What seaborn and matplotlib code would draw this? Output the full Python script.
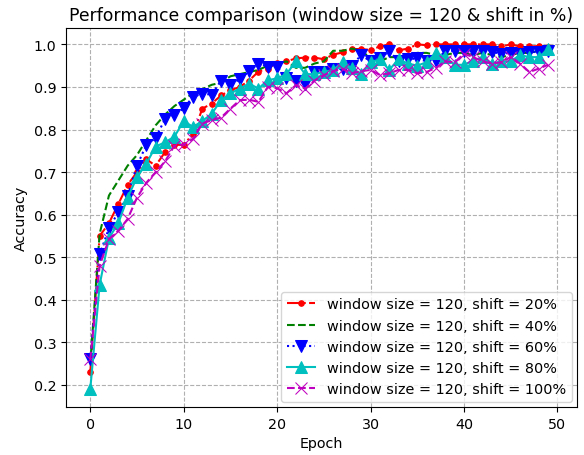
import matplotlib
matplotlib.use("Agg")
import matplotlib.pyplot as plt
import seaborn as sns
import pandas as pd
import numpy as np

epochs = list(range(50))

acc_shift20 = [0.23, 0.55, 0.58, 0.625, 0.67, 0.70, 0.73, 0.715, 0.747, 0.764,
               0.764, 0.79, 0.849, 0.861, 0.88, 0.892, 0.90, 0.915, 0.936, 0.943,
               0.957, 0.96, 0.967, 0.969, 0.969, 0.965, 0.976, 0.981, 0.989, 0.989,
               0.987, 0.995, 1.0, 0.986, 0.99, 1.0, 0.998, 1.0, 1.0, 1.0,
               1.0, 1.0, 1.0, 1.0, 0.995, 1.0, 0.995, 0.995, 0.996, 0.993]
acc_shift40 = [0.25, 0.555, 0.645, 0.68, 0.715, 0.74, 0.775, 0.81, 0.835, 0.855,
               0.87, 0.885, 0.895, 0.905, 0.91, 0.925, 0.93, 0.935, 0.94, 0.95,
               0.955, 0.96, 0.945, 0.945, 0.955, 0.96, 0.985, 0.985, 0.99, 0.985,
               0.968, 0.96, 0.97, 0.97, 0.975, 0.98, 0.98, 0.975, 0.975, 0.98,
               0.98, 0.975, 0.98, 0.975, 0.97, 0.975, 0.98, 0.98, 0.985, 0.985]
acc_shift60 = [0.26, 0.507, 0.568, 0.606, 0.644, 0.715, 0.764, 0.78, 0.825, 0.833,
               0.85, 0.877, 0.884, 0.882, 0.915, 0.905, 0.918, 0.937, 0.955, 0.948,
               0.948, 0.921, 0.915, 0.908, 0.935, 0.935, 0.943, 0.943, 0.95, 0.975,
               0.96, 0.967, 0.984, 0.96, 0.965, 0.967, 0.96, 0.96, 0.985, 0.985,
               0.985, 0.985, 0.985, 0.982, 0.978, 0.98, 0.978, 0.982, 0.982, 0.985]
acc_shift80 = [0.19, 0.435, 0.545, 0.58, 0.64, 0.688, 0.72, 0.76, 0.77, 0.783,
               0.82, 0.806, 0.82, 0.837, 0.869, 0.885, 0.896, 0.908, 0.896, 0.916,
               0.92, 0.93, 0.96, 0.93, 0.93, 0.935, 0.94, 0.958, 0.944, 0.93,
               0.958, 0.965, 0.94, 0.965, 0.955, 0.95, 0.958, 0.98, 0.97, 0.952,
               0.952, 0.962, 0.97, 0.955, 0.96, 0.96, 0.975, 0.97, 0.97, 0.988]
acc_shift100 = [0.26, 0.48, 0.543, 0.562, 0.59, 0.64, 0.675, 0.70, 0.725, 0.762,
                0.765, 0.778, 0.814, 0.822, 0.828, 0.849, 0.869, 0.87, 0.865, 0.90,
                0.897, 0.885, 0.904, 0.896, 0.915, 0.928, 0.937, 0.943, 0.932, 0.937,
                0.94, 0.928, 0.932, 0.94, 0.94, 0.932, 0.935, 0.945, 0.96, 0.958,
                0.978, 0.97, 0.96, 0.955, 0.958, 0.97, 0.955, 0.935, 0.943, 0.952]

labels = ["window size = 120, shift = 20%",
          "window size = 120, shift = 40%",
          "window size = 120, shift = 60%",
          "window size = 120, shift = 80%",
          "window size = 120, shift = 100%"]
series = [acc_shift20, acc_shift40, acc_shift60, acc_shift80, acc_shift100]
colors = ["red", "green", "blue", "c", "m"]
markers = [".", None, "v", "^", "x"]
linestyles = ["-.", "--", ":", "-", "--"]
msizes = [8, 0, 8, 8, 8]

fig, ax = plt.subplots(figsize=(5.84, 4.56), dpi=100)
fig.subplots_adjust(left=0.113, right=0.988, top=0.936, bottom=0.105)

for vals, lab, c, m, ls, ms in zip(series, labels, colors, markers, linestyles, msizes):
    df = pd.DataFrame({"Epoch": epochs, "Accuracy": vals})
    kw = dict(color=c, linestyle=ls, label=lab, linewidth=1.5)
    if m is not None:
        kw.update(marker=m, markersize=ms, markeredgecolor=c, markerfacecolor=c)
    sns.lineplot(data=df, x="Epoch", y="Accuracy", ax=ax, **kw)

ax.grid(True, linestyle="--", color="#b0b0b0", linewidth=0.8)
ax.set_axisbelow(True)
ax.set_xticks([0, 10, 20, 30, 40, 50])
ax.set_yticks([0.2, 0.3, 0.4, 0.5, 0.6, 0.7, 0.8, 0.9, 1.0])
ax.set_xlim(-2.6, 52.1)
ax.set_ylim(0.148, 1.038)
ax.set_xlabel("Epoch", fontsize=10.3)
ax.set_ylabel("Accuracy", fontsize=10.3)
ax.set_title("Performance comparison (window size = 120 & shift in %)", fontsize=12.4)
ax.tick_params(labelsize=10.3)
ax.legend(loc="lower right", fontsize=10.4, borderaxespad=0.35)
fig.savefig("out.png", dpi=100)
